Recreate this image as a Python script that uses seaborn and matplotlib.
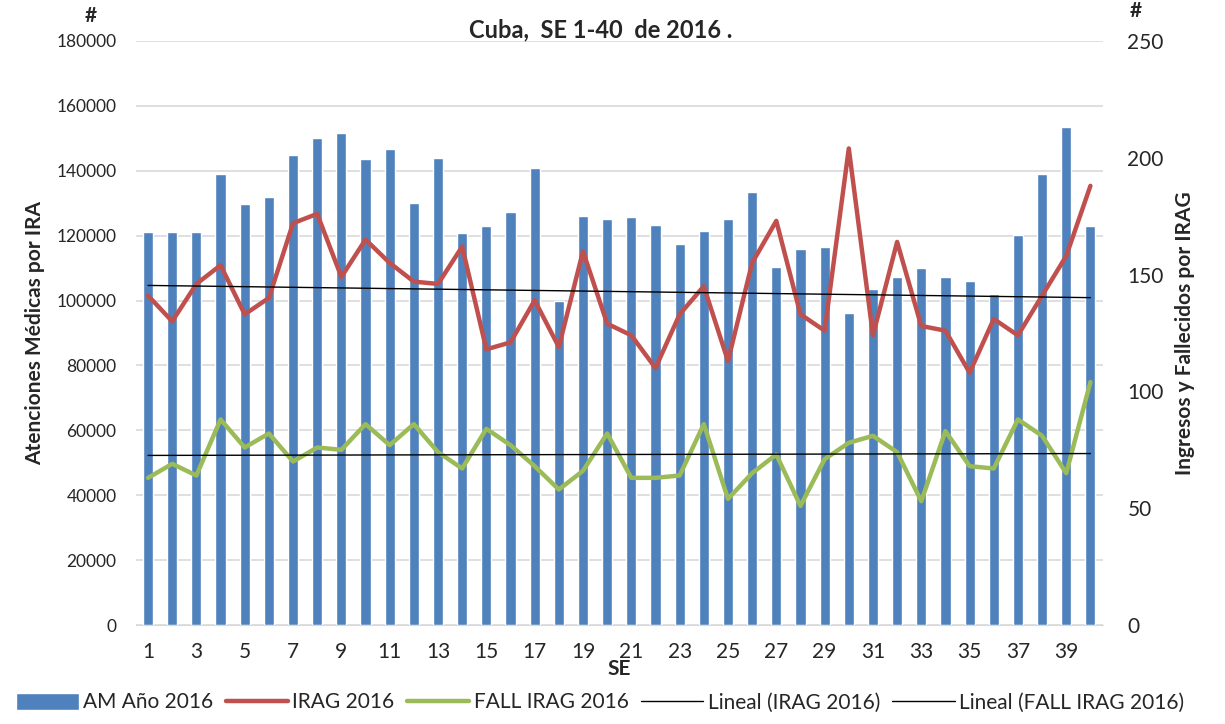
import numpy as np
import pandas as pd
import matplotlib
matplotlib.use('Agg')
import matplotlib.pyplot as plt
import seaborn as sns

# Weekly data, Cuba 2016, epidemiological weeks 1-40
weeks = list(range(1, 41))

am_2016 = [121000, 121000, 121000, 139000, 129700, 132000, 145000, 150200, 151700, 143500,
           146700, 130100, 144000, 120900, 123000, 127400, 140900, 100000, 126000, 125000,
           125700, 123400, 117500, 121300, 125000, 133500, 110300, 116000, 116600, 96200,
           103600, 107200, 110000, 107200, 106000, 102100, 120200, 139100, 153400, 123000]

irag_2016 = [141, 130, 146, 154, 133, 140, 172, 176, 149, 165,
             155, 147, 146, 162, 118, 121, 139, 119, 160, 129,
             124, 110, 133, 145, 113, 155, 173, 133, 126, 204,
             124, 164, 128, 126, 108, 131, 124, 141, 158, 188]

fall_irag_2016 = [63, 69, 64, 88, 76, 82, 70, 76, 75, 86,
                  77, 86, 74, 67, 84, 77, 68, 58, 66, 82,
                  63, 63, 64, 86, 54, 65, 73, 51, 71, 78,
                  81, 74, 53, 83, 68, 67, 88, 81, 65, 104]

df = pd.DataFrame({'SE': weeks, 'AM': am_2016, 'IRAG': irag_2016, 'FALL': fall_irag_2016})

sns.set_style('white')
plt.rcParams['font.family'] = ['Lato', 'DejaVu Sans']

fig = plt.figure(figsize=(12.25, 7.24), dpi=100)
ax = fig.add_axes([0.111, 0.1367, 0.789, 0.8067])

sns.barplot(data=df, x='SE', y='AM', native_scale=True, width=0.42,
            color='#4F81BD', saturation=1, label='AM Año 2016', ax=ax, zorder=2)
if ax.get_legend() is not None:
    ax.get_legend().remove()
ax.set_xlim(0.5, 40.5)
ax.set_ylim(0, 180000)
ax.set_yticks(range(0, 180001, 20000))
ax.yaxis.grid(True, color='#D9D9D9', linewidth=1.2, zorder=0)
ax.set_axisbelow(True)
ax.set_xticks(range(1, 41, 2))
ax.tick_params(axis='x', labelsize=15, length=0, pad=12)
ax.tick_params(axis='y', labelsize=12.5, length=0, pad=14)
for s in ['top', 'left', 'right']:
    ax.spines[s].set_visible(False)
ax.spines['bottom'].set_color('#D9D9D9')
ax.set_xlabel('SE', fontsize=15, fontweight='bold', labelpad=-2)
ax.set_ylabel('Atenciones Médicas por IRA', fontsize=15, fontweight='bold', labelpad=8)

ax2 = ax.twinx()
sns.lineplot(data=df, x='SE', y='IRAG', color='#C0504D', linewidth=3.2, label='IRAG 2016', ax=ax2, legend=False)
sns.lineplot(data=df, x='SE', y='FALL', color='#9BBB59', linewidth=3.2, label='FALL IRAG 2016', ax=ax2, legend=False)

# Linear trend lines (Excel "Lineal")
x = np.array(weeks)
for col, lab in [('IRAG', 'Lineal (IRAG 2016)'), ('FALL', 'Lineal (FALL IRAG 2016)')]:
    m, b = np.polyfit(x, df[col], 1)
    ax2.plot(x, m * x + b, color='black', linewidth=1, label=lab)
if ax2.get_legend() is not None:
    ax2.get_legend().remove()

ax2.set_ylim(0, 250)
ax2.set_yticks(range(0, 251, 50))
ax2.tick_params(axis='y', labelsize=15, length=0, pad=18)
for s in ['top', 'left', 'right', 'bottom']:
    ax2.spines[s].set_visible(False)
ax2.set_ylabel('Ingresos y Fallecidos por IRAG', fontsize=15, fontweight='bold', labelpad=8)

fig.text(0.49, 0.958, 'Cuba,  SE 1-40  de 2016 .', ha='center', va='center', fontsize=17, fontweight='bold')
fig.text(0.074, 0.978, '#', ha='center', va='center', fontsize=15, fontweight='bold')
fig.text(0.927, 0.985, '#', ha='center', va='center', fontsize=15, fontweight='bold')

h1, l1 = ax.get_legend_handles_labels()
h2, l2 = ax2.get_legend_handles_labels()
fig.legend(h1 + h2, l1 + l2, loc='lower center', bbox_to_anchor=(0.49, -0.01), ncol=5,
           frameon=False, fontsize=15, handlelength=3, handleheight=0.9,
           handletextpad=0.2, columnspacing=0.6)

fig.savefig('out.png', dpi=100)
